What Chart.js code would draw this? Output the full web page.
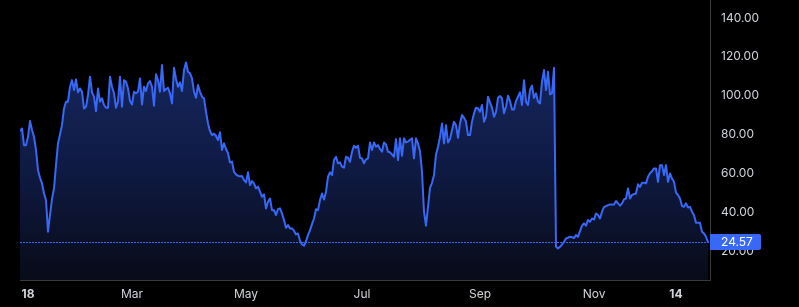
<!DOCTYPE html>
<html>
<head>
<meta charset="utf-8">
<script src="https://cdn.jsdelivr.net/npm/chart.js@4"></script>
<style>
html,body{margin:0;padding:0;background:#000;overflow:hidden}
canvas{display:block}
</style>
</head>
<body>
<canvas id="c" width="799" height="307"></canvas>
<script>
// Daily series (one sample per day)
const values = [
  81.7, 83.1, 74.5, 74.5, 78.8, 86.9, 82.3, 78.8, 72.0, 61.6,
  57.7, 54.8, 49.6, 46.2, 29.9, 38.5, 46.7, 52.2, 64.2, 75.4,
  80.0, 84.8, 93.4, 96.9, 96.9, 104.6, 108.0, 102.9, 108.4, 101.7,
  103.7, 102.0, 93.4, 94.3, 100.3, 109.8, 101.7, 99.5, 92.0, 103.7,
  96.9, 98.6, 95.2, 93.8, 93.8, 109.8, 104.6, 101.2, 93.8, 96.9,
  109.8, 94.3, 108.0, 107.2, 103.7, 97.2, 95.5, 102.0, 101.2, 102.0,
  108.9, 95.5,
  104.6, 102.4, 106.3, 107.5, 104.6, 94.8, 111.0, 108.0, 102.0, 115.8,
  102.4, 103.4, 104.1, 101.2, 96.0, 114.4, 108.6, 104.6, 106.8, 102.4,
  113.2, 117.1, 112.3, 111.5, 108.9, 102.0, 98.9, 105.5, 102.0, 99.5,
  98.6, 91.7, 85.7, 81.7, 79.7, 80.4, 79.2, 77.1, 81.1, 72.0,
  75.5, 72.5, 70.3, 65.6, 66.0, 60.8, 59.4, 58.7, 58.4, 58.6,
  56.5, 55.3, 60.5, 53.9, 56.0, 54.8, 52.2, 53.1, 50.5, 47.9,
  49.1, 41.9, 45.3, 47.0, 41.0, 41.0, 38.5, 41.5, 41.9, 39.3,
  35.9, 31.9, 33.3, 31.6, 31.6, 30.4, 28.5, 29.0, 25.2, 23.3,
  22.7, 25.0, 28.1, 30.7, 33.8, 36.7, 41.5, 41.0, 46.2, 49.6,
  46.5, 50.5, 58.2, 60.5, 59.1, 66.8, 68.5, 65.1, 65.6, 63.4,
  62.9, 68.5, 68.0, 65.9, 71.1, 74.2, 73.2, 74.2, 68.0, 67.7,
  65.1, 67.2, 67.7, 75.9, 72.0, 75.9, 73.7, 74.5, 72.5, 71.1,
  75.9, 74.9, 71.1, 70.8, 69.7, 68.5, 77.6, 66.8, 78.0, 69.0,
  78.0, 75.9, 76.3, 77.3, 78.0, 67.7, 78.0, 75.4, 71.4, 60.8,
  40.2, 33.0, 42.7, 52.5, 55.1, 59.1, 69.7, 73.7, 78.8, 85.7,
  75.4, 84.8, 75.9, 77.6, 82.3, 86.6, 84.8, 78.3, 85.7, 90.0,
  88.6, 86.6, 79.7, 79.7, 86.6, 90.9, 93.8, 93.4, 91.7, 95.2,
  86.6, 89.1, 99.5, 96.5, 93.8, 89.1, 91.7, 98.9, 99.8, 98.6,
  90.9, 94.3, 100.0, 97.2, 92.9, 92.9, 97.2, 99.5, 101.7, 95.2,
  108.0, 96.9, 95.2, 102.9, 105.1, 98.9, 101.2, 96.9, 96.0, 107.2,
  113.2, 102.9, 112.3, 100.7, 101.2, 114.4, 22.1, 21.3, 22.1, 23.3,
  24.7, 26.4, 26.8, 27.3, 27.1, 26.6, 28.2, 27.3, 30.2, 33.0,
  34.2, 33.0, 35.9, 35.0, 36.7, 36.2, 39.3, 38.5, 36.7, 40.2,
  42.6, 43.1, 43.6, 43.9, 43.9, 43.9, 45.7, 44.5, 43.3, 44.5,
  46.5, 47.0, 52.2, 47.0, 48.8, 49.3, 49.6, 54.3, 53.0, 55.1,
  55.1, 54.8, 58.2, 60.0, 61.0, 62.5, 62.5, 55.6, 64.2, 64.2,
  59.1, 64.2, 55.6, 59.9, 57.3, 55.6, 50.0, 48.8, 47.0, 43.1,
  42.7, 44.5, 42.4, 42.7, 40.2, 38.4, 34.5, 34.5, 34.5, 29.9,
  29.0, 27.3, 24.57
];
const xTickPositions = [4, 56, 113, 171, 230, 287, 328];
const xTickLabels = ['18', 'Mar', 'May', 'Jul', 'Sep', 'Nov', '14'];
const xTickBold = [true, false, false, false, false, false, true];
const yTickValues = [20, 40, 60, 80, 100, 120, 140];
const lastValue = values[values.length - 1];

const LINE = '#3868f8';
const TEXT = '#d1d4dc';
const AXIS = '#3a3a3a';
const FONT = 'Inter';

const priceLine = {
  id: 'priceLine',
  afterDatasetsDraw(chart) {
    const { ctx, chartArea: a, scales: { y } } = chart;
    const py = Math.round(y.getPixelForValue(lastValue)) + 0.5;
    ctx.save();
    ctx.strokeStyle = LINE;
    ctx.lineWidth = 1;
    ctx.setLineDash([2, 1]);
    ctx.beginPath();
    ctx.moveTo(a.left, py);
    ctx.lineTo(a.right, py);
    ctx.stroke();
    ctx.restore();
  },
  afterDraw(chart) {
    const { ctx, chartArea: a, scales: { y } } = chart;
    const py = y.getPixelForValue(lastValue);
    const x0 = a.right, x1 = a.right + 51, y0 = py - 8, y1 = py + 8, r = 2;
    ctx.save();
    ctx.fillStyle = LINE;
    ctx.beginPath();
    ctx.moveTo(x0, y0);
    ctx.lineTo(x1 - r, y0);
    ctx.quadraticCurveTo(x1, y0, x1, y0 + r);
    ctx.lineTo(x1, y1 - r);
    ctx.quadraticCurveTo(x1, y1, x1 - r, y1);
    ctx.lineTo(x0, y1);
    ctx.closePath();
    ctx.fill();
    ctx.fillStyle = '#ffffff';
    ctx.font = '12px ' + FONT;
    ctx.textBaseline = 'middle';
    ctx.textAlign = 'left';
    ctx.fillText(lastValue.toFixed(2), a.right + 11, py + 0.5);
    ctx.restore();
  }
};

function noPad(s) {
  s.paddingTop = 0; s.paddingBottom = 0; s.paddingLeft = 0; s.paddingRight = 0;
}

new Chart(document.getElementById('c'), {
  type: 'line',
  data: {
    datasets: [{
      data: values.map((v, i) => ({ x: i, y: v })),
      borderColor: LINE,
      borderWidth: 2,
      pointRadius: 0,
      tension: 0,
      borderJoinStyle: 'round',
      fill: 'start',
      backgroundColor: (c) => {
        const chart = c.chart;
        const a = chart.chartArea;
        if (!a) return 'rgba(20,37,92,0.8)';
        const top = chart.scales.y.getPixelForValue(Math.max(...values));
        const g = chart.ctx.createLinearGradient(0, top, 0, a.bottom);
        g.addColorStop(0, 'rgb(21,38,94)');
        g.addColorStop(0.5, 'rgb(15,26,66)');
        g.addColorStop(1, 'rgb(8,11,24)');
        return g;
      }
    }]
  },
  options: {
    responsive: false,
    animation: false,
    devicePixelRatio: 1,
    layout: { padding: { left: 20, right: 0, top: 0, bottom: 0 } },
    plugins: { legend: { display: false }, tooltip: { enabled: false } },
    scales: {
      x: {
        type: 'linear',
        min: 0,
        max: 345,
        grid: { display: false, drawTicks: false },
        border: { display: true, color: AXIS, width: 1 },
        afterBuildTicks: (s) => { s.ticks = xTickPositions.map(v => ({ value: v })); },
        afterFit: (s) => { s.height = 27; noPad(s); },
        ticks: {
          autoSkip: false,
          maxRotation: 0,
          minRotation: 0,
          padding: 7,
          color: TEXT,
          font: (c) => ({ family: FONT, size: 12, weight: xTickBold[c.index] ? 'bold' : 'normal' }),
          callback: (v, i) => xTickLabels[i]
        }
      },
      y: {
        position: 'right',
        min: 5,
        max: 149.3,
        grid: { display: false, drawTicks: false },
        border: { display: true, color: AXIS, width: 1 },
        afterBuildTicks: (s) => { s.ticks = yTickValues.map(v => ({ value: v })); },
        afterFit: (s) => { s.width = 89; noPad(s); },
        ticks: {
          autoSkip: false,
          padding: 11,
          color: TEXT,
          font: { family: FONT, size: 12 },
          callback: (v) => Number(v).toFixed(2)
        }
      }
    }
  },
  plugins: [priceLine]
});
</script>
</body>
</html>
